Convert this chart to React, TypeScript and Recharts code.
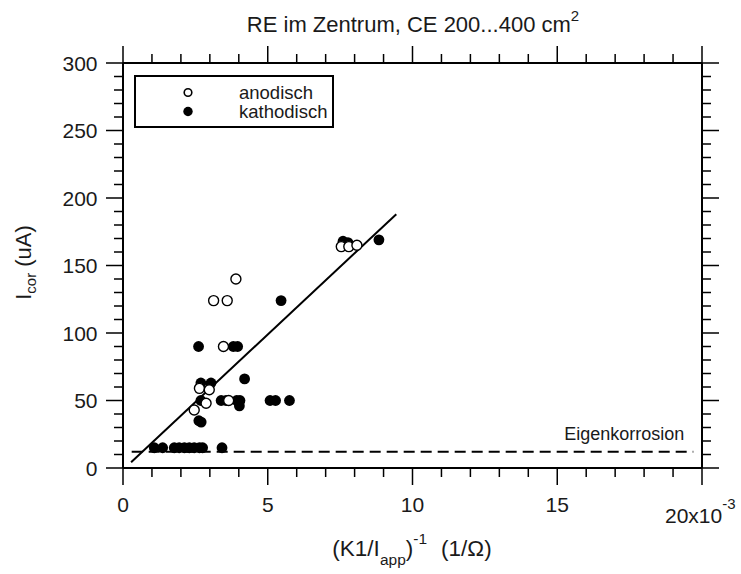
import React from 'react';
import { ScatterChart, Scatter, XAxis, YAxis, Legend, ReferenceLine, Customized } from 'recharts';

// ---- data ----
const anodischX = [2.46, 2.64, 2.87, 2.98, 3.13, 3.47, 3.6, 3.65, 3.9, 7.54, 7.8, 8.08];
const anodischY = [43, 59, 48, 58, 124, 90, 124, 50, 140, 164, 164, 165];

const kathodischX = [
  1.08, 1.37, 1.77, 1.94, 2.12, 2.29, 2.46, 2.64, 2.75, 3.42,
  2.62, 2.7,
  2.69, 2.69, 3.04, 4.2,
  3.39, 3.56, 3.93, 4.04, 4.02,
  5.08, 5.27, 5.75,
  2.61, 3.81, 3.96,
  5.46,
  7.6, 7.77, 8.84,
];
const kathodischY = [
  15, 15, 15, 15, 15, 15, 15, 15, 15, 15,
  35, 34,
  50, 63, 63, 66,
  50, 50, 50, 50, 46,
  50, 50, 50,
  90, 90, 90,
  124,
  168, 167, 169,
];

const fitX = [0.28, 9.44];
const fitY = [4.2, 188];

const eigenX = [0.3, 19.7];
const eigenY = [12, 12];

const xTicks = [0, 1, 2, 3, 4, 5, 6, 7, 8, 9, 10, 11, 12, 13, 14, 15, 16, 17, 18, 19, 20];
const yTicks = [
  0, 10, 20, 30, 40, 50, 60, 70, 80, 90, 100, 110, 120, 130, 140, 150,
  160, 170, 180, 190, 200, 210, 220, 230, 240, 250, 260, 270, 280, 290, 300,
];

const zip = (xs: number[], ys: number[]) => xs.map((x, i) => ({ x, y: ys[i] }));
const anodisch = zip(anodischX, anodischY);
const kathodisch = zip(kathodischX, kathodischY);
const fit = zip(fitX, fitY);

const FONT = '"Liberation Sans", Arial, sans-serif';
const INK = '#1a1a1a';
const MAJ = 17;
const MIN = 9;

const BottomTick = (props: any) => {
  const { x, y, payload } = props;
  const v = payload.value;
  const major = v % 5 === 0;
  return (
    <g>
      <line x1={x} x2={x} y1={y} y2={y + (major ? MAJ : MIN)} stroke="#000" strokeWidth={1.5} />
      {major && v !== 20 && (
        <text x={x} y={y + 44} textAnchor="middle" fontSize={21} fill={INK} fontFamily={FONT}>{v}</text>
      )}
      {v === 20 && (
        <text x={x - 37} y={y + 54.5} fontSize={21} fill={INK} fontFamily={FONT}>
          20x10<tspan fontSize={15} dy={-14}>-3</tspan>
        </text>
      )}
    </g>
  );
};

const TopTick = (props: any) => {
  const { x, y, payload } = props;
  const major = payload.value % 5 === 0;
  return <line x1={x} x2={x} y1={y} y2={y - (major ? MAJ : MIN)} stroke="#000" strokeWidth={1.5} />;
};

const LeftTick = (props: any) => {
  const { x, y, payload } = props;
  const v = payload.value;
  const major = v % 50 === 0;
  return (
    <g>
      <line x1={x} x2={x - (major ? MAJ : MIN)} y1={y} y2={y} stroke="#000" strokeWidth={1.5} />
      {major && (
        <text x={x - 25.5} y={y + 7.5} textAnchor="end" fontSize={21} fill={INK} fontFamily={FONT}>{v}</text>
      )}
    </g>
  );
};

const RightTick = (props: any) => {
  const { x, y, payload } = props;
  const major = payload.value % 50 === 0;
  return <line x1={x} x2={x + (major ? MAJ : MIN)} y1={y} y2={y} stroke="#000" strokeWidth={1.5} />;
};

const OpenDot = (props: any) => (
  <circle cx={props.cx} cy={props.cy} r={5} fill="#fff" stroke="#000" strokeWidth={1.4} />
);
const FilledDot = (props: any) => <circle cx={props.cx} cy={props.cy} r={5.4} fill="#000" />;
const NoDot = () => <g />;

const EigenLabel = (props: any) => {
  const vb = props.viewBox || {};
  return (
    <text x={vb.x + vb.width - 9} y={vb.y - 12} textAnchor="end" fontSize={18} fill={INK} fontFamily={FONT}>
      Eigenkorrosion
    </text>
  );
};

const LegendBox = () => (
  <svg width={200} height={53} style={{ display: 'block' }}>
    <rect x={1} y={1} width={198} height={51} fill="#fff" stroke="#000" strokeWidth={2} />
    <circle cx={54} cy={17.5} r={3.8} fill="#fff" stroke="#000" strokeWidth={1.6} />
    <circle cx={54} cy={36.5} r={4.7} fill="#000" />
    <text x={105} y={23.5} fontSize={18.5} fill={INK} fontFamily={FONT}>anodisch</text>
    <text x={105} y={43.3} fontSize={18.5} fill={INK} fontFamily={FONT}>kathodisch</text>
  </svg>
);

const Texts = () => (
  <g fontFamily={FONT} fill={INK}>
    <text x={413} y={31.7} textAnchor="middle" fontSize={22}>
      RE im Zentrum, CE 200...400 cm<tspan fontSize={15} dy={-11}>2</tspan>
    </text>
    <text x={412} y={556} textAnchor="middle" fontSize={22.5}>
      (K1/I<tspan fontSize={15.5} dy={9}>app</tspan>
      <tspan dy={-9}>)</tspan>
      <tspan fontSize={15.5} dy={-12}>-1</tspan>
      <tspan dy={12} dx={14}>(1/Ω)</tspan>
    </text>
    <text x={31} y={262.5} textAnchor="middle" fontSize={22} transform="rotate(-90 31 262.5)">
      I<tspan fontSize={15} dy={5}>cor</tspan>
      <tspan dy={-5} dx={6}>(uA)</tspan>
    </text>
  </g>
);

export default function App() {
  return (
    <div style={{ position: 'absolute', left: 0, top: 0, width: 741, height: 574, background: '#fff' }}>
      <ScatterChart
        width={741}
        height={574}
        margin={{ top: 62, right: 38, left: 63, bottom: 66 }}
        style={{ fontFamily: FONT }}
      >
        <XAxis
          xAxisId={0}
          type="number"
          dataKey="x"
          domain={[0, 20]}
          ticks={xTicks}
          interval={0}
          height={40}
          tickSize={0}
          tickMargin={0}
          tickLine={false}
          tick={<BottomTick />}
          axisLine={{ stroke: '#000', strokeWidth: 2 }}
        />
        <XAxis
          xAxisId="top"
          orientation="top"
          type="number"
          dataKey="x"
          domain={[0, 20]}
          ticks={xTicks}
          interval={0}
          height={1}
          tickSize={0}
          tickMargin={0}
          tickLine={false}
          tick={<TopTick />}
          axisLine={{ stroke: '#000', strokeWidth: 2 }}
        />
        <YAxis
          yAxisId={0}
          type="number"
          dataKey="y"
          domain={[0, 300]}
          ticks={yTicks}
          interval={0}
          width={60}
          tickSize={0}
          tickMargin={0}
          tickLine={false}
          tick={<LeftTick />}
          axisLine={{ stroke: '#000', strokeWidth: 2 }}
        />
        <YAxis
          yAxisId="right"
          orientation="right"
          type="number"
          dataKey="y"
          domain={[0, 300]}
          ticks={yTicks}
          interval={0}
          width={1}
          tickSize={0}
          tickMargin={0}
          tickLine={false}
          tick={<RightTick />}
          axisLine={{ stroke: '#000', strokeWidth: 2 }}
        />
        <ReferenceLine
          xAxisId={0}
          yAxisId={0}
          segment={[
            { x: eigenX[0], y: eigenY[0] },
            { x: eigenX[1], y: eigenY[1] },
          ]}
          stroke="#000"
          strokeWidth={2}
          strokeDasharray="11 6"
          label={<EigenLabel />}
        />
        <Scatter
          name="fit"
          data={fit}
          xAxisId="top"
          yAxisId="right"
          line={{ stroke: '#000', strokeWidth: 2 }}
          shape={<NoDot />}
          legendType="none"
          isAnimationActive={false}
        />
        <Scatter
          name="kathodisch"
          data={kathodisch}
          xAxisId={0}
          yAxisId={0}
          shape={<FilledDot />}
          isAnimationActive={false}
        />
        <Scatter
          name="anodisch"
          data={anodisch}
          xAxisId={0}
          yAxisId={0}
          shape={<OpenDot />}
          isAnimationActive={false}
        />
        <Legend
          layout="vertical"
          align="center"
          verticalAlign="middle"
          content={<LegendBox />}
          wrapperStyle={{ left: 134, top: 75, width: 200, height: 53 }}
        />
        <Customized component={<Texts />} />
      </ScatterChart>
    </div>
  );
}
